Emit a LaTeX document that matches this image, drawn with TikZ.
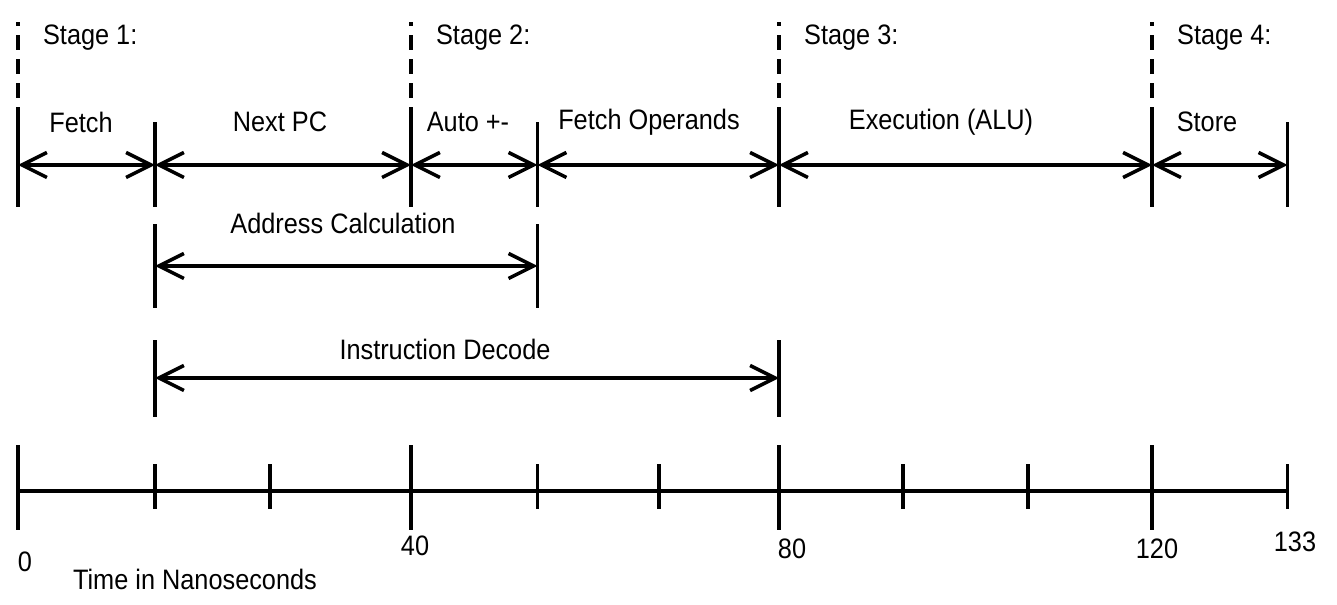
\documentclass[tikz,border=0pt]{standalone}
\usepackage{fontspec}
\setmainfont{Liberation Sans}[FakeStretch=0.9]
\usetikzlibrary{arrows.meta}

\begin{document}
\begin{tikzpicture}[x=1cm,y=1cm,font=\fontsize{16pt}{19pt}\selectfont,
    >={Straight Barb[length=0.5cm,width=0.5cm]},
    span/.style={<->,line width=2pt},
    bar/.style={line width=1.8pt},
    stageline/.style={line width=1.8pt,dash pattern=on 0.3cm off 0.18cm},
    phase/.style={inner sep=1pt},
    axisline/.style={line width=2.4pt}]
  \useasboundingbox (0,0) rectangle (26.74,12.1);
  % time marks, one every 13.3 ns
  \foreach \x [count=\i from 0] in {0.36,3.10,5.40,8.22,10.75,13.18,15.58,18.06,20.56,23.04,25.75}
    \coordinate (m\i) at (\x,0);

  % stages and their phases
  \foreach \i in {0,1,3,4,6,9,10} {
    \coordinate (top\i) at ([yshift=8.8cm]m\i);
    \draw[bar] ([yshift=-0.84cm]top\i) -- ([yshift=0.86cm]top\i);
  }
  \foreach \i/\n in {0/1,3/2,6/3,9/4} {
    \draw[stageline] ([yshift=0.86cm]top\i) -- ([yshift=2.85cm]top\i);
    \node[phase,anchor=west] (stage\n) at ([xshift=0.46cm,yshift=2.55cm]top\i) {Stage \n:};
  }
  \foreach \a/\b in {0/1,1/3,3/4,4/6,6/9,9/10}
    \draw[span] (top\a) -- (top\b);
  \node[phase] (fetch) at (1.62,9.66) {Fetch};
  \node[phase] (nextpc) at (5.60,9.66) {Next PC};
  \node[phase] (autoinc) at (9.36,9.66) {Auto +-};
  \node[phase] (operands) at (12.98,9.66) {Fetch Operands};
  \node[phase] (alu) at (18.82,9.66) {Execution (ALU)};
  \node[phase] (store) at (24.14,9.66) {Store};

  % address calculation
  \coordinate (addr1) at ([yshift=6.78cm]m1);
  \coordinate (addr4) at ([yshift=6.78cm]m4);
  \foreach \c in {addr1,addr4}
    \draw[bar] ([yshift=-0.84cm]\c) -- ([yshift=0.84cm]\c);
  \draw[span] (addr1) -- (addr4);
  \node[phase] (addrcalc) at (6.86,7.64) {Address Calculation};

  % instruction decode
  \coordinate (dec1) at ([yshift=4.54cm]m1);
  \coordinate (dec6) at ([yshift=4.54cm]m6);
  \foreach \c in {dec1,dec6}
    \draw[bar] ([yshift=-0.78cm]\c) -- ([yshift=0.76cm]\c);
  \draw[span] (dec1) -- (dec6);
  \node[phase] (decode) at (8.90,5.12) {Instruction Decode};

  % time axis
  \foreach \i in {0,...,10}
    \coordinate (ax\i) at ([yshift=2.28cm]m\i);
  \draw[axisline] (ax0) -- (ax10);
  \foreach \i in {0,3,6,9}
    \draw[bar] ([yshift=-0.78cm]ax\i) -- ([yshift=0.92cm]ax\i);
  \foreach \i in {1,2,4,5,7,8,10}
    \draw[bar] ([yshift=-0.36cm]ax\i) -- ([yshift=0.54cm]ax\i);
  \node[phase] (n0) at (0.50,0.86) {0};
  \node[phase] (n40) at (8.30,1.18) {40};
  \node[phase] (n80) at (15.84,1.12) {80};
  \node[phase] (n120) at (23.14,1.12) {120};
  \node[phase] (n133) at (25.90,1.26) {133};
  \node[phase] (unit) at (3.90,0.52) {Time in Nanoseconds};
\end{tikzpicture}
\end{document}
